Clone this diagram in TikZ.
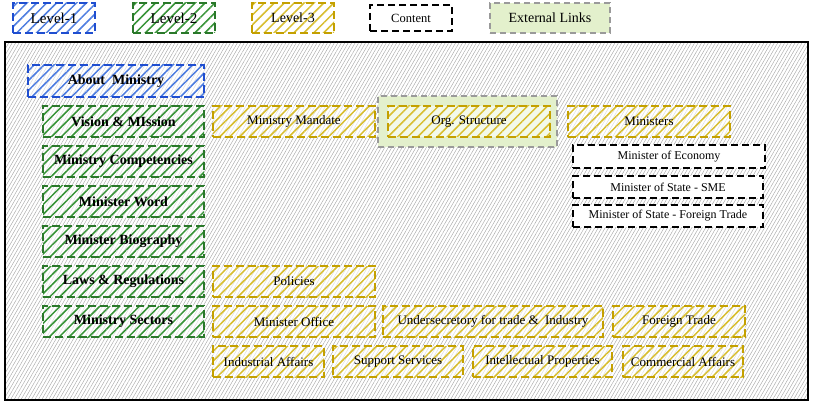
\documentclass[tikz,border=0pt]{standalone}
\usepackage{fontspec}
\setmainfont{Liberation Serif}
\usetikzlibrary{patterns.meta}
\definecolor{blueB}{HTML}{1F4ED0}
\definecolor{blueH}{HTML}{4C7CE0}
\definecolor{greenB}{HTML}{2A782A}
\definecolor{greenH}{HTML}{389438}
\definecolor{yelB}{HTML}{C4A000}
\definecolor{yelH}{HTML}{D8BE30}
\definecolor{extF}{HTML}{E3F0CC}
\definecolor{extB}{HTML}{9A9A9A}
\definecolor{bgH}{HTML}{A8A8A8}
\tikzset{
  base/.style={rectangle, line width=2pt, dash pattern=on 8pt off 4pt, inner sep=0pt, align=center},
  lvlone/.style={base, draw=blueB, preaction={fill=white, fill opacity=0.6}, pattern={Lines[angle=45,distance=7pt,line width=1.5pt]}, pattern color=blueH, font=\fontsize{14}{16}\selectfont\bfseries},
  lvltwo/.style={base, draw=greenB, preaction={fill=white, fill opacity=0.6}, pattern={Lines[angle=45,distance=7pt,line width=1.5pt]}, pattern color=greenH, font=\fontsize{14}{16}\selectfont\bfseries, minimum width=161pt, minimum height=31pt},
  lvlthree/.style={base, draw=yelB, preaction={fill=white, fill opacity=0.6}, pattern={Lines[angle=45,distance=7pt,line width=1.5pt]}, pattern color=yelH, font=\fontsize{13}{15}\selectfont, minimum height=31pt},
  content/.style={base, draw=black, line width=2.2pt, dash pattern=on 7pt off 4pt, fill=white, font=\fontsize{12}{14}\selectfont},
  extlink/.style={rectangle, draw=extB, line width=1.5pt, dash pattern=on 6pt off 4pt, fill=extF, inner sep=0pt, font=\fontsize{14}{16}\selectfont},
}
\begin{document}
\begin{tikzpicture}[x=1pt,y=-1pt]
\useasboundingbox (0,0) rectangle (813,406);
% container
\path[pattern={Lines[angle=60,distance=3pt,line width=0.45pt]}, pattern color=bgH] (5,42) rectangle (808,400);
\node[draw=black, line width=1.8pt, minimum width=803pt, minimum height=358pt, inner sep=0pt] (cont) at (406.5,221) {};
% legend
\node[lvlone, minimum width=82pt, minimum height=30pt, font=\fontsize{15}{17}\selectfont] (l1) at (54,18) {Level-1};
\node[lvltwo, minimum width=82pt, minimum height=30pt, font=\fontsize{15}{17}\selectfont] (l2) at (174,18) {Level-2};
\node[lvlthree, minimum width=82pt, minimum height=30pt, font=\fontsize{14}{16}\selectfont] (l3) at (293,18) {Level-3};
\node[content, minimum width=82pt, minimum height=26pt, font=\fontsize{12.5}{14}\selectfont] (lc) at (411,18) {Content};
\node[extlink, minimum width=120pt, minimum height=30pt] (le) at (550,18) {External Links};
% level 1
\node[lvlone, minimum width=176pt, minimum height=32pt] (about) at (116,81) {About\ \ Ministry};
% level 2
\node[lvltwo] (vm) at (123.5,121.5) {Vision \& MIssion};
\node[lvltwo] (mc) at (123.5,161.5) {Ministry Competencies};
\node[lvltwo] (mw) at (123.5,201.5) {Minister Word};
\node[lvltwo] (mb) at (123.5,241.5) {Minister Biography};
\node[lvltwo] (lr) at (123.5,281.5) {Laws \& Regulations};
\node[lvltwo] (ms) at (123.5,321.5) {Ministry Sectors};
% level 3
\node[lvlthree, minimum width=162pt] (mm) at (294,121.5) {Ministry Mandate};
\node[extlink, minimum width=179pt, minimum height=51pt] (orgx) at (467.5,121.5) {};
\node[lvlthree, minimum width=162pt] (org) at (469,121.5) {Org. Structure};
\node[lvlthree, minimum width=162pt] (min) at (649,121.5) {Ministers};
\node[content, minimum width=192pt, minimum height=23pt] (me) at (669,156.5) {Minister of Economy};
\node[content, minimum width=190pt, minimum height=22pt] (msme) at (668,187) {Minister of State - SME};
\node[content, minimum width=190pt, minimum height=22pt] (msft) at (668,216) {Minister of State - Foreign Trade};
\node[lvlthree, minimum width=162pt] (pol) at (294,281.5) {Policies};
\node[lvlthree, minimum width=162pt] (mo) at (294,321.5) {Minister Office};
\node[lvlthree, minimum width=220pt] (us) at (493,321.5) {Undersecretory for trade \&\ \ Industry};
\node[lvlthree, minimum width=132pt] (ft) at (679,321.5) {Foreign Trade};
\node[lvlthree, minimum width=111pt] (ia) at (268.5,361.5) {Industrial Affairs};
\node[lvlthree, minimum width=130pt] (ss) at (398,361.5) {Support Services};
\node[lvlthree, minimum width=139pt] (ip) at (542.5,361.5) {Intellectual Properties};
\node[lvlthree, minimum width=120pt] (ca) at (683,361.5) {Commercial Affairs};
\end{tikzpicture}
\end{document}
